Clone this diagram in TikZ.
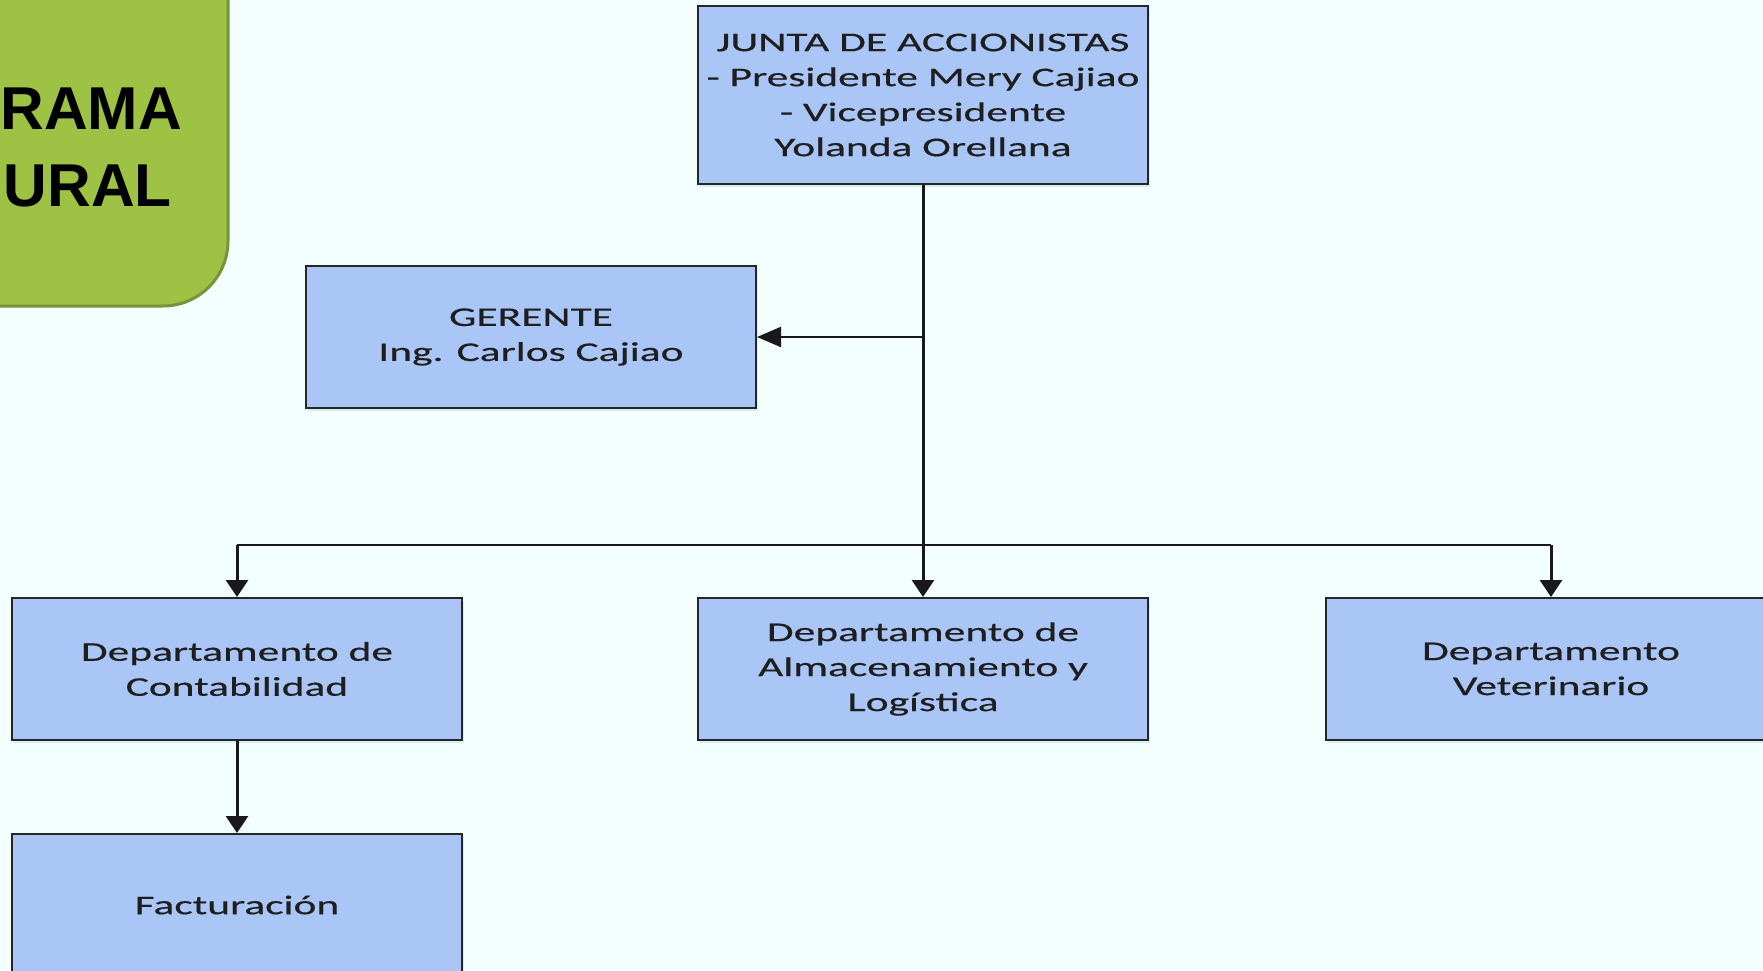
\documentclass[tikz,border=0pt]{standalone}
\usepackage{fontspec}
\newfontfamily\boxfont[FakeStretch=1.61,FakeBold=0.4]{Carlito}
\newfontfamily\titlefont{Liberation Sans}
\usetikzlibrary{arrows.meta,shadows}
\definecolor{bgcol}{HTML}{F3FEFF}
\definecolor{boxblue}{HTML}{A9C6F7}
\definecolor{textdark}{HTML}{1E1E1E}
\definecolor{titlegreen}{HTML}{9DC244}
\definecolor{titleborder}{HTML}{77933C}
\begin{document}
\begin{tikzpicture}[x=1pt,y=-1pt,
  orgbox/.style={draw=black!85, line width=2pt, fill=boxblue, minimum width=450pt,
    minimum height=142pt, inner sep=0pt, align=center, text=textdark,
    font=\boxfont\fontsize{27}{35}\selectfont,
    drop shadow={shadow xshift=2pt, shadow yshift=-3pt, opacity=0.12, fill=teal}},
  vconn/.style={line width=3pt, draw=black!90, -{Triangle[width=22pt,length=17pt]}},
  hconn/.style={line width=2pt, draw=black!90, -{Triangle[width=20pt,length=24pt]}},
  busline/.style={line width=2pt, draw=black!90},
  titletext/.style={inner sep=0pt, font=\titlefont\bfseries\fontsize{60.5}{77}\selectfont}
]
\useasboundingbox (0,0) rectangle (1763,971);
\fill[bgcol] (0,0) rectangle (1763,971);
\begin{scope}
\clip (0,0) rectangle (1763,971);
% title box
\draw[fill=titlegreen, draw=titleborder, line width=3pt, rounded corners=65pt] (-150,-150) rectangle (228,306);
\node[titletext, anchor=base east] (t1) at (182,129) {RAMA};
\node[titletext, anchor=base east] (t2) at (172,206) {URAL};
% boxes
\node[orgbox, minimum height=178pt] (junta) at (923,95)
  {JUNTA DE ACCIONISTAS\\- Presidente Mery Cajiao\\- Vicepresidente\\Yolanda Orellana};
\node[orgbox] (ger) at (531,337) {GERENTE\\Ing. Carlos Cajiao};
\node[orgbox] (cont) at (237,669) {Departamento de\\Contabilidad};
\node[orgbox] (alm) at (923,669) {Departamento de\\Almacenamiento y\\Logística};
\node[orgbox] (vet) at (1551,669) {Departamento\\Veterinario};
\node[orgbox] (fac) at (237,905) {Facturación};
% connectors
\coordinate (bus) at (923,545);
\draw[busline] (cont.north |- bus) -- (vet.north |- bus);
\draw[hconn] (junta.south |- ger.east) -- (ger.east);
\draw[vconn] (junta.south) -- (alm.north);
\draw[vconn] (cont.north |- bus) -- (cont.north);
\draw[vconn] (vet.north |- bus) -- (vet.north);
\draw[vconn] (cont.south) -- (fac.north);
\end{scope}
\end{tikzpicture}
\end{document}
